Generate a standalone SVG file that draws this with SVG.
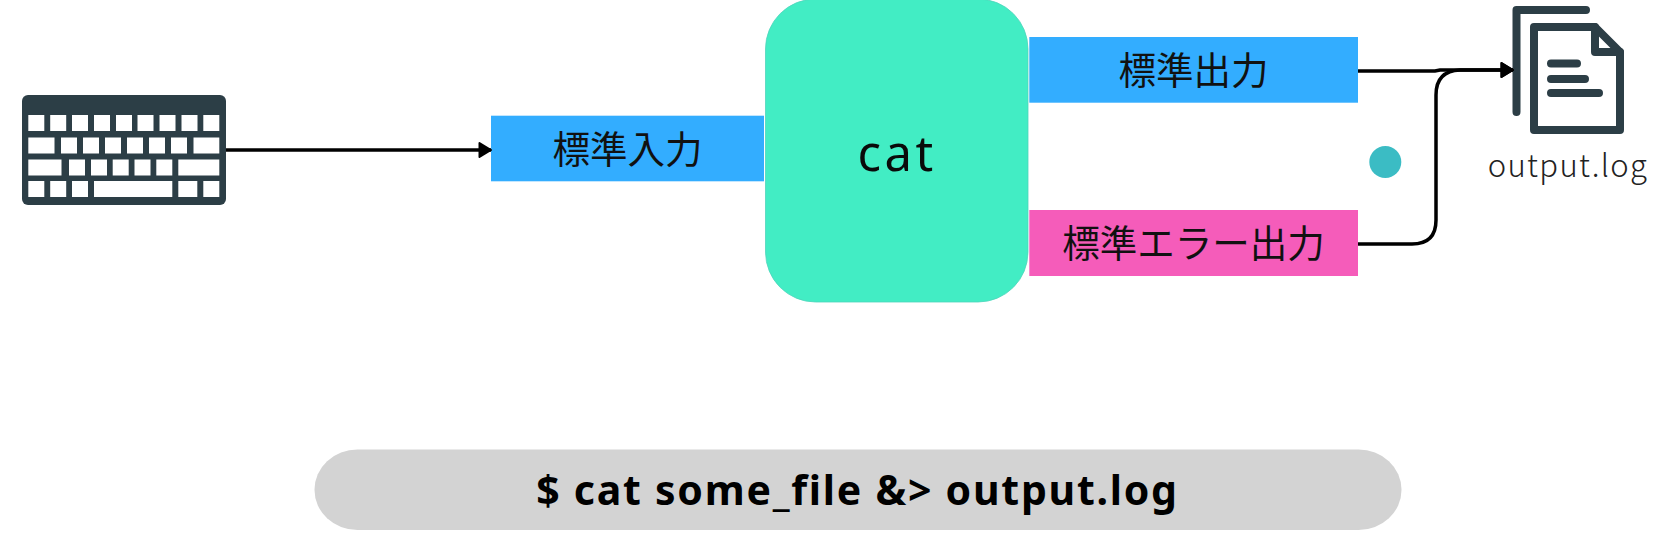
<svg xmlns="http://www.w3.org/2000/svg" width="1678" height="546" viewBox="0 0 1678 546">
<style>
.jp{font-family:"Noto Sans CJK JP","Liberation Sans",sans-serif;font-size:37.500px;fill:#111;text-anchor:middle}
.key{fill:#fff}
.ic{fill:none;stroke:#2c3e46;stroke-width:8;stroke-linecap:round;stroke-linejoin:round}
.cn{fill:none;stroke:#000;stroke-width:3.5}
</style>
<defs><marker id="a" markerUnits="userSpaceOnUse" markerWidth="14" markerHeight="18" refX="13" refY="9" orient="auto"><path d="M1.500,2 L13,9 L1.500,16 Z" fill="#000" stroke="#000" stroke-width="2" stroke-linejoin="round"/></marker></defs>
<rect width="1678" height="546" fill="#fff"/>
<g id="keyboard">
<rect x="22" y="95" width="204" height="110" rx="6" fill="#2c3e46"/>
<g class="key">
<rect x="28.3" y="115" width="16" height="16"/><rect x="50.2" y="115" width="16" height="16"/><rect x="72" y="115" width="16" height="16"/><rect x="94" y="115" width="16" height="16"/><rect x="116" y="115" width="16" height="16"/><rect x="137.5" y="115" width="16" height="16"/><rect x="159.5" y="115" width="16" height="16"/><rect x="181.5" y="115" width="16" height="16"/><rect x="203.3" y="115" width="16" height="16"/>
<rect x="28.3" y="137.5" width="26.2" height="16"/><rect x="61" y="137.5" width="16" height="16"/><rect x="83" y="137.5" width="16" height="16"/><rect x="105" y="137.5" width="16" height="16"/><rect x="127" y="137.5" width="16" height="16"/><rect x="149" y="137.5" width="16" height="16"/><rect x="171" y="137.5" width="16" height="16"/><rect x="193.5" y="137.5" width="25.8" height="16"/>
<rect x="28.3" y="159.5" width="33.2" height="16"/><rect x="69" y="159.5" width="16" height="16"/><rect x="91" y="159.5" width="16" height="16"/><rect x="112.7" y="159.5" width="16" height="16"/><rect x="134.5" y="159.5" width="16" height="16"/><rect x="156.3" y="159.5" width="16" height="16"/><rect x="178.3" y="159.5" width="41" height="16"/>
<rect x="28.3" y="181" width="16" height="16"/><rect x="50.2" y="181" width="16" height="16"/><rect x="72" y="181" width="16" height="16"/><rect x="94" y="181" width="78.3" height="16"/><rect x="178.3" y="181" width="19" height="16"/><rect x="203.3" y="181" width="16" height="16"/>
</g>
</g>
<g id="stdin"><rect x="491" y="115.7" width="273" height="65.6" fill="#33adff"/><text class="jp" x="627.5" y="163">標準入力</text></g>
<g id="cat"><rect x="765.5" y="-1" width="262.5" height="303" rx="50" fill="#42edc4" stroke="#4fd4bb" stroke-width="0.800"/><text x="897" y="171" font-family="'Noto Sans',sans-serif" font-size="49" letter-spacing="3.500" fill="#0a0a0a" text-anchor="middle">cat</text></g>
<g id="stdout"><rect x="1029.3" y="37" width="328.7" height="65.7" fill="#33adff"/><text class="jp" x="1193.5" y="84">標準出力</text></g>
<g id="stderr"><rect x="1029.3" y="210" width="328.7" height="66" fill="#f55cba"/><text class="jp" x="1193.5" y="257">標準エラー出力</text></g>
<g id="dot"><circle cx="1385.3" cy="162" r="16" fill="#3bbcc4"/></g>
<g id="file">
<path class="ic" d="M1586,10 H1516.500 V112"/>
<path class="ic" d="M1534,27 H1595 L1620,52 V130 H1534 Z"/>
<path class="ic" d="M1595,27 V52 H1620"/>
<path class="ic" d="M1551,63.500 H1577 M1551,79 H1585 M1551,93 H1599"/>
<text x="1568" y="177" font-family="'Noto Sans CJK JP','DejaVu Sans',sans-serif" font-weight="300" font-size="31" letter-spacing="1.300" fill="#222" text-anchor="middle">output.log</text>
</g>
<g id="command"><rect x="314.500" y="449.500" width="1087" height="80.500" rx="43" ry="40" fill="#d3d3d3"/><text x="857.500" y="505" font-family="'Noto Sans',sans-serif" font-weight="700" font-size="41" letter-spacing="1.750" fill="#000" text-anchor="middle">$ cat some_file &amp;&gt; output.log</text></g>
<g id="connectors">
<path class="cn" d="M226,150 H491" marker-end="url(#a)"/>
<path class="cn" d="M1358,71 H1435 L1440,70 H1513" marker-end="url(#a)"/>
<path class="cn" d="M1358,244 H1412 Q1436,244 1436,220 V95 Q1436,71 1460,70 H1513" marker-end="url(#a)"/>
</g>
</svg>
